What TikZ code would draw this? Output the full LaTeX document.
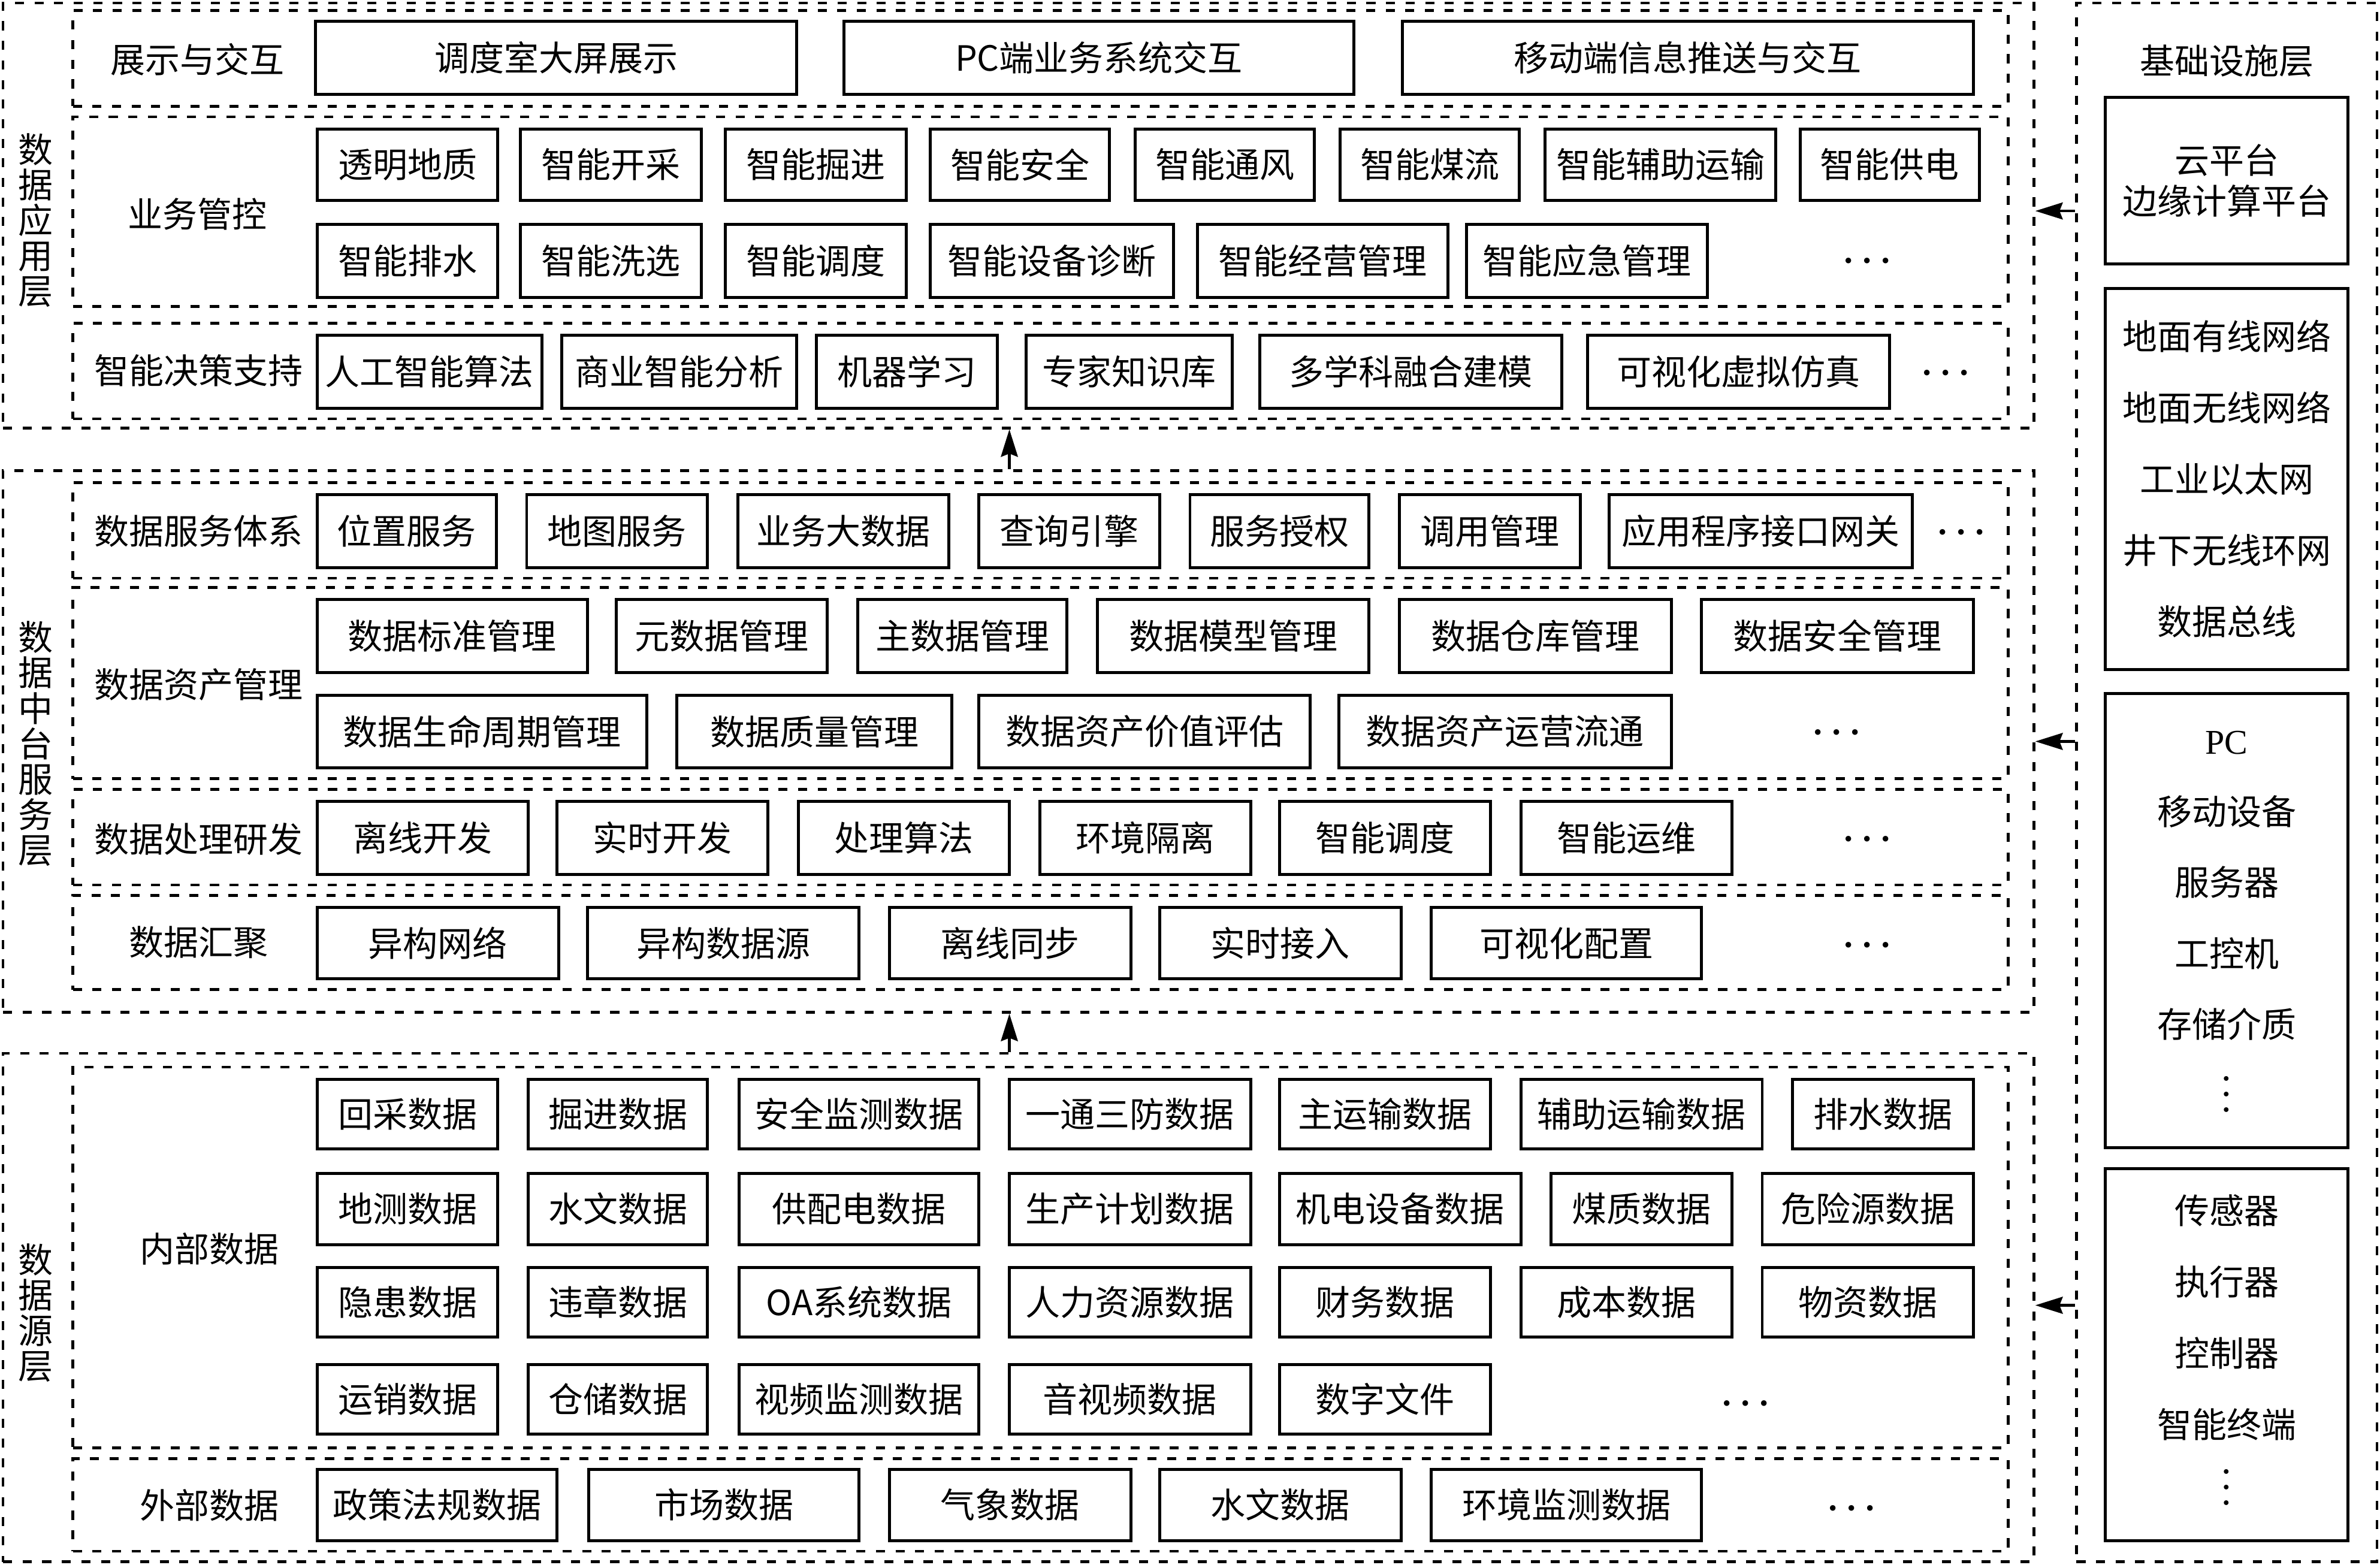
\documentclass[tikz,border=0pt]{standalone}
\usepackage{fontspec}
\setmainfont{Noto Sans CJK SC}
\newfontfamily\latserif{Liberation Serif}
\usetikzlibrary{arrows.meta}
\newcommand\fsz{\fontsize{16.5pt}{20pt}\selectfont}
\newcommand\hdots{{\fontsize{17pt}{20pt}\selectfont\boldmath$\cdots$}}
\newcommand\vdts{\rotatebox{90}{\fontsize{14pt}{16pt}\selectfont\boldmath$\cdots$}}
\newcommand\Bx[6]{\node[bx,minimum width={(#4-#2)*0.02533cm},minimum height={(#5-#3)*0.02533cm}] (#1) at ({(#2+#4)/2},{(#3+#5)/2}) {#6};}
\newcommand\Dr[5]{\node[dbx,minimum width={(#4-#2)*0.02533cm},minimum height={(#5-#3)*0.02533cm}] (#1) at ({(#2+#4)/2},{(#3+#5)/2}) {};}
\newcommand\Ib[7]{\node[ibx,font=\fontsize{16.5pt}{#6}\selectfont,minimum width={(#4-#2)*0.02533cm},minimum height={(#5-#3)*0.02533cm}] (#1) at ({(#2+#4)/2},{(#3+#5)/2}) {#7};}
\begin{document}
\begin{tikzpicture}[x=0.02533cm,y=-0.02533cm,
 bx/.style={draw,line width=1.4pt,inner sep=0pt,font=\fsz},
 dbx/.style={draw,line width=1.3pt,dash pattern=on 4.3pt off 5pt,inner sep=0pt},
 lbl/.style={inner sep=0pt,font=\fsz},
 vlbl/.style={inner sep=0pt,font=\fontsize{16.5pt}{16.8pt}\selectfont,align=center},
 arr/.style={line width=1.3pt,-{Stealth[length=13pt,width=8pt,inset=1.5pt]}},
 ibx/.style={draw,line width=1.4pt,inner sep=0pt,align=center},
 itx/.style={inner sep=0pt,align=center},
]
\useasboundingbox (0,0) rectangle (1568,1031);

% ---------- outer layers ----------
\Dr{L1}{2}{2}{1340}{282}
\Dr{L2}{2}{310}{1340}{667}
\Dr{L3}{2}{694}{1340}{1029}
\Dr{INF}{1368}{2}{1566}{1029}

% ---------- 数据应用层 ----------
\node[vlbl] (t1) at (23.5,145) {数\\据\\应\\用\\层};
\Dr{R11}{48}{7}{1323}{70}
\Dr{R12}{48}{77}{1323}{202}
\Dr{R13}{48}{213}{1323}{276}
\node[lbl] (l11) at (130,39) {展示与交互};
\node[lbl] (l12) at (130,141) {业务管控};
\node[lbl] (l13) at (131,244) {智能决策支持};

\Bx{a1}{208}{14}{525}{62}{调度室大屏展示}
\Bx{a2}{556}{14}{892}{62}{PC端业务系统交互}
\Bx{a3}{924}{14}{1300}{62}{移动端信息推送与交互}

\Bx{b1}{209}{85}{328}{132}{透明地质}
\Bx{b2}{343}{85}{462}{132}{智能开采}
\Bx{b3}{478}{85}{597}{132}{智能掘进}
\Bx{b4}{613}{85}{731}{132}{智能安全}
\Bx{b5}{748}{85}{866}{132}{智能通风}
\Bx{b6}{883}{85}{1001}{132}{智能煤流}
\Bx{b7}{1018}{85}{1170}{132}{智能辅助运输}
\Bx{b8}{1186}{85}{1304}{132}{智能供电}
\Bx{b9}{209}{148}{328}{196}{智能排水}
\Bx{b10}{343}{148}{462}{196}{智能洗选}
\Bx{b11}{478}{148}{597}{196}{智能调度}
\Bx{b12}{613}{148}{773}{196}{智能设备诊断}
\Bx{b13}{789}{148}{954}{196}{智能经营管理}
\Bx{b14}{966}{148}{1125}{196}{智能应急管理}
\node[lbl] (be) at (1230,172) {\hdots};

\Bx{c1}{209}{221}{357}{269}{人工智能算法}
\Bx{c2}{370}{221}{525}{269}{商业智能分析}
\Bx{c3}{538}{221}{657}{269}{机器学习}
\Bx{c4}{676}{221}{812}{269}{专家知识库}
\Bx{c5}{830}{221}{1029}{269}{多学科融合建模}
\Bx{c6}{1046}{221}{1245}{269}{可视化虚拟仿真}
\node[lbl] (ce) at (1282,246) {\hdots};

% ---------- 数据中台服务层 ----------
\node[vlbl] (t2) at (23.5,490) {数\\据\\中\\台\\服\\务\\层};
\Dr{R21}{48}{318}{1323}{381}
\Dr{R22}{48}{387}{1323}{513}
\Dr{R23}{48}{520}{1323}{583}
\Dr{R24}{48}{590}{1323}{652}
\node[lbl] (l21) at (131,350) {数据服务体系};
\node[lbl] (l22) at (131,451) {数据资产管理};
\node[lbl] (l23) at (131,553) {数据处理研发};
\node[lbl] (l24) at (131,621) {数据汇聚};

\Bx{d1}{209}{326}{327}{374}{位置服务}
\Bx{d2}{347}{326}{466}{374}{地图服务}
\Bx{d3}{486}{326}{625}{374}{业务大数据}
\Bx{d4}{645}{326}{764}{374}{查询引擎}
\Bx{d5}{784}{326}{902}{374}{服务授权}
\Bx{d6}{922}{326}{1041}{374}{调用管理}
\Bx{d7}{1060}{326}{1260}{374}{应用程序接口网关}
\node[lbl] (de) at (1292,351) {\hdots};

\Bx{e1}{209}{395}{387}{443}{数据标准管理}
\Bx{e2}{406}{395}{545}{443}{元数据管理}
\Bx{e3}{565}{395}{703}{443}{主数据管理}
\Bx{e4}{723}{395}{902}{443}{数据模型管理}
\Bx{e5}{922}{395}{1101}{443}{数据仓库管理}
\Bx{e6}{1121}{395}{1300}{443}{数据安全管理}
\Bx{e7}{209}{458}{426}{506}{数据生命周期管理}
\Bx{e8}{446}{458}{627}{506}{数据质量管理}
\Bx{e9}{645}{458}{863}{506}{数据资产价值评估}
\Bx{e10}{882}{458}{1101}{506}{数据资产运营流通}
\node[lbl] (ee) at (1210,483) {\hdots};

\Bx{f1}{209}{528}{348}{576}{离线开发}
\Bx{f2}{367}{528}{506}{576}{实时开发}
\Bx{f3}{526}{528}{665}{576}{处理算法}
\Bx{f4}{685}{528}{824}{576}{环境隔离}
\Bx{f5}{843}{528}{982}{576}{智能调度}
\Bx{f6}{1002}{528}{1141}{576}{智能运维}
\node[lbl] (fe) at (1230,553) {\hdots};

\Bx{g1}{209}{598}{368}{645}{异构网络}
\Bx{g2}{387}{598}{566}{645}{异构数据源}
\Bx{g3}{586}{598}{745}{645}{离线同步}
\Bx{g4}{764}{598}{923}{645}{实时接入}
\Bx{g5}{943}{598}{1121}{645}{可视化配置}
\node[lbl] (ge) at (1230,623) {\hdots};

% ---------- 数据源层 ----------
\node[vlbl] (t3) at (23.5,865) {数\\据\\源\\层};
\Dr{R31}{48}{703}{1323}{954}
\Dr{R32}{48}{961}{1323}{1022}
\node[lbl] (l31) at (138,823) {内部数据};
\node[lbl] (l32) at (138,992) {外部数据};

\Bx{h1}{209}{711}{328}{757}{回采数据}
\Bx{h2}{348}{711}{466}{757}{掘进数据}
\Bx{h3}{487}{711}{645}{757}{安全监测数据}
\Bx{h4}{665}{711}{824}{757}{一通三防数据}
\Bx{h5}{843}{711}{982}{757}{主运输数据}
\Bx{h6}{1002}{711}{1161}{757}{辅助运输数据}
\Bx{h7}{1181}{711}{1300}{757}{排水数据}

\Bx{i1}{209}{773}{328}{820}{地测数据}
\Bx{i2}{348}{773}{466}{820}{水文数据}
\Bx{i3}{487}{773}{645}{820}{供配电数据}
\Bx{i4}{665}{773}{824}{820}{生产计划数据}
\Bx{i5}{843}{773}{1002}{820}{机电设备数据}
\Bx{i6}{1022}{773}{1141}{820}{煤质数据}
\Bx{i7}{1161}{773}{1300}{820}{危险源数据}

\Bx{j1}{209}{835}{328}{881}{隐患数据}
\Bx{j2}{348}{835}{466}{881}{违章数据}
\Bx{j3}{487}{835}{645}{881}{OA系统数据}
\Bx{j4}{665}{835}{824}{881}{人力资源数据}
\Bx{j5}{843}{835}{982}{881}{财务数据}
\Bx{j6}{1002}{835}{1141}{881}{成本数据}
\Bx{j7}{1161}{835}{1300}{881}{物资数据}

\Bx{k1}{209}{899}{328}{945}{运销数据}
\Bx{k2}{348}{899}{466}{945}{仓储数据}
\Bx{k3}{487}{899}{645}{945}{视频监测数据}
\Bx{k4}{665}{899}{824}{945}{音视频数据}
\Bx{k5}{843}{899}{982}{945}{数字文件}
\node[lbl] (ke) at (1150,925) {\hdots};

\Bx{m1}{209}{968}{367}{1015}{政策法规数据}
\Bx{m2}{388}{968}{566}{1015}{市场数据}
\Bx{m3}{586}{968}{745}{1015}{气象数据}
\Bx{m4}{764}{968}{923}{1015}{水文数据}
\Bx{m5}{943}{968}{1121}{1015}{环境监测数据}
\node[lbl] (me) at (1220,994) {\hdots};

% ---------- 基础设施层 ----------
\node[lbl] (t4) at (1467,40) {基础设施层};
\Ib{n1}{1387}{64}{1547}{174}{19.5pt}{云平台\\边缘计算平台}
\Ib{n2}{1387}{190}{1547}{441}{33.9pt}{地面有线网络\\地面无线网络\\工业以太网\\井下无线环网\\数据总线}
\Ib{n3}{1387}{457}{1547}{756}{33.6pt}{}
\node[itx,font=\fontsize{16.5pt}{33.6pt}\selectfont] (n3t) at (1467,583.5) {{\latserif PC}\\移动设备\\服务器\\工控机\\存储介质};
\node[inner sep=0pt] (n3d) at (1467,721) {\vdts};
\Ib{n4}{1387}{770}{1547}{1015}{33.9pt}{}
\node[itx,font=\fontsize{16.5pt}{33.9pt}\selectfont] (n4t) at (1467,868) {传感器\\执行器\\控制器\\智能终端};
\node[inner sep=0pt] (n4d) at (1467,980) {\vdts};

% ---------- arrows ----------
\coordinate (ax) at (665,0);
\coordinate (y1) at (0,139);
\coordinate (y2) at (0,488.5);
\coordinate (y3) at (0,860);
\draw[arr] (L2.north -| ax) -- (L1.south -| ax);
\draw[arr] (L3.north -| ax) -- (L2.south -| ax);
\draw[arr] (INF.west |- y1) -- (L1.east |- y1);
\draw[arr] (INF.west |- y2) -- (L2.east |- y2);
\draw[arr] (INF.west |- y3) -- (L3.east |- y3);
\end{tikzpicture}
\end{document}
